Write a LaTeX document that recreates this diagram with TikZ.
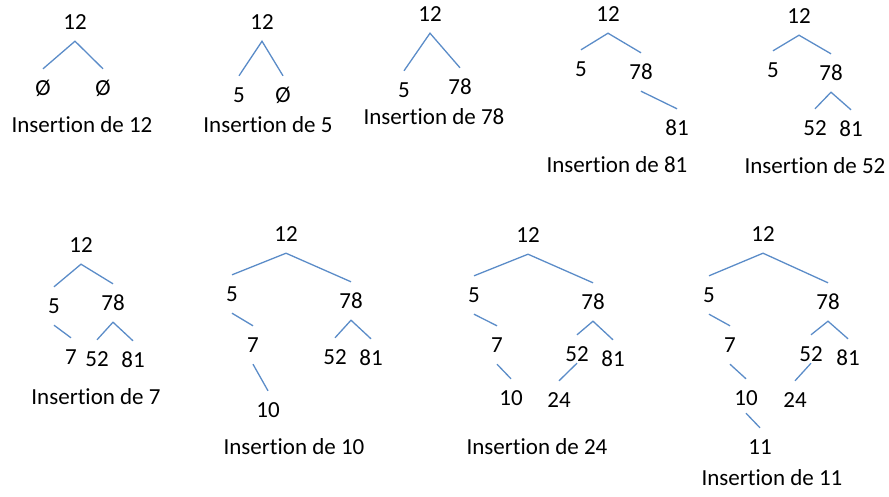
\documentclass[tikz,border=0pt]{standalone}
\usepackage{fontspec}
\setmainfont{Carlito}[Ligatures={NoCommon,NoRequired,NoContextual}]
\definecolor{linecol}{RGB}{91,140,200}
\begin{document}
\begin{tikzpicture}[x=1pt,y=-1pt,
  num/.style={font=\fontsize{23}{27}\selectfont, inner sep=0pt, text height=14.5pt, text depth=0pt, minimum height=38pt},
  lab/.style={font=\fontsize{23}{27}\selectfont, inner sep=0pt, text height=14.8pt, text depth=0pt},
  edge/.style={draw=linecol, line width=1.3pt}]
\useasboundingbox (0,0) rectangle (889,496);
% Tree A
\node[num] (a12) at (75,22) {12};
\node[num] (aL) at (43,88) {Ø};
\node[num] (aR) at (103,88) {Ø};
\node[lab] (la) at (82,125) {Insertion de 12};
\draw[edge] (aL.north) -- (a12.south) -- (aR.north);
% Tree B
\node[num] (b12) at (262,22) {12};
\node[num] (b5) at (239,95) {5};
\node[num] (b0) at (283,95) {Ø};
\node[lab] (lb) at (268,125) {Insertion de 5};
\draw[edge] (b5.north) -- (b12.south) -- (b0.north);
% Tree C
\node[num] (c12) at (430,14) {12};
\node[num] (c5) at (404,90) {5};
\node[num] (c78) at (460,87) {78};
\node[lab] (lc) at (434,117) {Insertion de 78};
\draw[edge] (c5.north) -- (c12.south) -- (c78.north);
% Tree D
\node[num] (d12) at (608,14) {12};
\node[num] (d5) at (581,69) {5};
\node[num] (d78) at (641,72) {78};
\node[num] (d81) at (677,128) {81};
\node[lab] (ld) at (617,165) {Insertion de 81};
\draw[edge] (d5.north) -- (d12.south) -- (d78.north);
\draw[edge] (d78.south) -- (d81.north);
% Tree E
\node[num] (e12) at (799,16) {12};
\node[num] (e5) at (773,70) {5};
\node[num] (e78) at (831,73) {78};
\node[num] (e52) at (815,128) {52};
\node[num] (e81) at (851,129) {81};
\node[lab] (le) at (815,166) {Insertion de 52};
\draw[edge] (e5.north) -- (e12.south) -- (e78.north);
\draw[edge] (e52.north) -- (e78.south) -- (e81.north);
% Tree F
\node[num] (f12) at (81,245) {12};
\node[num] (f5) at (54,306) {5};
\node[num] (f78) at (113,303) {78};
\node[num] (f7) at (71,357) {7};
\node[num] (f52) at (97,359) {52};
\node[num] (f81) at (133,360) {81};
\node[lab] (lf) at (96,397) {Insertion de 7};
\draw[edge] (f5.north) -- (f12.south) -- (f78.north);
\draw[edge] (f5.south) -- (f7.north);
\draw[edge] (f52.north) -- (f78.south) -- (f81.north);
% Tree G
\node[num] (g12) at (286,234) {12};
\node[num] (g5) at (232,294) {5};
\node[num] (g78) at (351,301) {78};
\node[num] (g7) at (253,345) {7};
\node[num] (g10) at (268,410) {10};
\node[num] (g52) at (335,357) {52};
\node[num] (g81) at (371,358) {81};
\node[lab] (lg) at (294,447) {Insertion de 10};
\draw[edge] (g5.north) -- (g12.south) -- (g78.north);
\draw[edge] (g5.south) -- (g7.north);
\draw[edge] (g7.south) -- (g10.north);
\draw[edge] (g52.north) -- (g78.south) -- (g81.north);
% Tree H
\node[num] (h12) at (528,235) {12};
\node[num] (h5) at (474,295) {5};
\node[num] (h78) at (593,302) {78};
\node[num] (h7) at (497,345) {7};
\node[num] (h10) at (511,398) {10};
\node[num] (h52) at (577,354) {52};
\node[num] (h81) at (613,359) {81};
\node[num] (h24) at (559,400) {24};
\node[lab] (lh) at (537,447) {Insertion de 24};
\draw[edge] (h5.north) -- (h12.south) -- (h78.north);
\draw[edge] (h5.south) -- (h7.north);
\draw[edge] (h7.south) -- (h10.north);
\draw[edge] (h52.north) -- (h78.south) -- (h81.north);
\draw[edge] ([yshift=10pt]h52.south) -- (h24.north);
% Tree I
\node[num] (i12) at (763,234) {12};
\node[num] (i5) at (709,295) {5};
\node[num] (i78) at (828,302) {78};
\node[num] (i7) at (730,345) {7};
\node[num] (i10) at (746,398) {10};
\node[num] (i11) at (760,447) {11};
\node[num] (i52) at (811,354) {52};
\node[num] (i81) at (848,358) {81};
\node[num] (i24) at (795,400) {24};
\node[lab] (li) at (772,478) {Insertion de 11};
\draw[edge] (i5.north) -- (i12.south) -- (i78.north);
\draw[edge] (i5.south) -- (i7.north);
\draw[edge] (i7.south) -- (i10.north);
\draw[edge] ([yshift=4pt]i10.south) -- (i11.north);
\draw[edge] (i52.north) -- (i78.south) -- (i81.north);
\draw[edge] ([yshift=10pt]i52.south) -- (i24.north);
\end{tikzpicture}
\end{document}
